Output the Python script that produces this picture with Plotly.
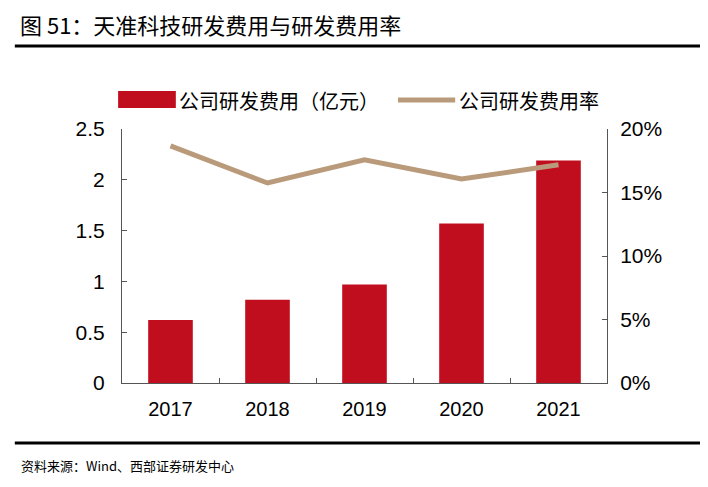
import plotly.graph_objects as go

# 天准科技研发费用与研发费用率
years = ["2017", "2018", "2019", "2020", "2021"]
rd_expense = [0.62, 0.82, 0.97, 1.57, 2.19]        # 亿元
rd_ratio = [18.67, 15.75, 17.57, 16.06, 17.18]     # %

left_ticks = [0, 0.5, 1, 1.5, 2, 2.5]
left_labels = ["0", "0.5", "1", "1.5", "2", "2.5"]
right_ticks = [0, 5, 10, 15, 20]
right_labels = ["0%", "5%", "10%", "15%", "20%"]

BAR_RED = "#C00E1E"
LINE_TAN = "#B99B7B"
AXIS = "#555555"
CJK = "Noto Sans CJK SC"
NUM = "Liberation Sans"

fig = go.Figure()

fig.add_trace(go.Bar(
    x=years, y=rd_expense, name="公司研发费用（亿元）",
    marker=dict(color=BAR_RED, line=dict(width=0)),
    width=0.46, yaxis="y",
))
fig.add_trace(go.Scatter(
    x=years, y=rd_ratio, name="公司研发费用率", mode="lines",
    line=dict(color=LINE_TAN, width=5), yaxis="y2",
))

# custom legend (wide swatches like the original)
fig.add_shape(type="rect", xref="paper", yref="paper",
              x0=-0.008, x1=0.111, y0=1.083, y1=1.150,
              fillcolor=BAR_RED, line=dict(width=0))
fig.add_annotation(xref="paper", yref="paper", x=0.114, y=1.114,
                   xanchor="left", yanchor="middle", showarrow=False,
                   text="公司研发费用（亿元）", font=dict(family=CJK, size=20, color="#000"))
fig.add_shape(type="line", xref="paper", yref="paper",
              x0=0.569, x1=0.687, y0=1.114, y1=1.114,
              line=dict(color=LINE_TAN, width=5))
fig.add_annotation(xref="paper", yref="paper", x=0.690, y=1.114,
                   xanchor="left", yanchor="middle", showarrow=False,
                   text="公司研发费用率", font=dict(family=CJK, size=20, color="#000"))

# header / footer
fig.add_annotation(xref="paper", yref="paper", x=-0.212, y=1.413,
                   xanchor="left", yanchor="middle", showarrow=False, borderpad=0,
                   text="图 51：天准科技研发费用与研发费用率",
                   font=dict(family=CJK, size=22, color="#000"))
fig.add_shape(type="line", xref="paper", yref="paper",
              x0=-0.221, x1=1.21, y0=1.327, y1=1.327,
              line=dict(color="#000", width=3))
fig.add_shape(type="line", xref="paper", yref="paper",
              x0=-0.221, x1=1.21, y0=-0.236, y1=-0.236,
              line=dict(color="#000", width=3))
fig.add_annotation(xref="paper", yref="paper", x=-0.212, y=-0.323,
                   xanchor="left", yanchor="middle", showarrow=False,
                   text="资料来源：Wind、西部证券研发中心",
                   font=dict(family=CJK, size=13, color="#000"))

# page body keeps an 8px margin, so size the figure to fit inside it
fig.update_layout(
    width=692, height=471,
    margin=dict(l=114, r=93, t=121, b=96),
    paper_bgcolor="white", plot_bgcolor="white",
    showlegend=False,
    font=dict(family=NUM, size=20, color="#000"),
    xaxis=dict(
        type="category", showline=True, linecolor=AXIS, linewidth=1,
        ticks="inside", tickson="boundaries", ticklen=5, tickcolor=AXIS,
        showgrid=False, tickfont=dict(family=NUM, size=20),
        ticklabelstandoff=8,
    ),
    yaxis=dict(
        range=[0, 2.5], tickvals=left_ticks, ticktext=left_labels,
        showline=True, linecolor=AXIS, linewidth=1, ticks="inside",
        ticklen=5, tickcolor=AXIS, showgrid=False, zeroline=False,
        tickfont=dict(family=NUM, size=21), ticklabelstandoff=12,
    ),
    yaxis2=dict(
        range=[0, 20], tickvals=right_ticks, ticktext=right_labels,
        overlaying="y", side="right",
        showline=True, linecolor=AXIS, linewidth=1, ticks="inside",
        ticklen=5, tickcolor=AXIS, showgrid=False, zeroline=False,
        tickfont=dict(family=NUM, size=21), ticklabelstandoff=8,
    ),
)

fig.write_html("out.html")
